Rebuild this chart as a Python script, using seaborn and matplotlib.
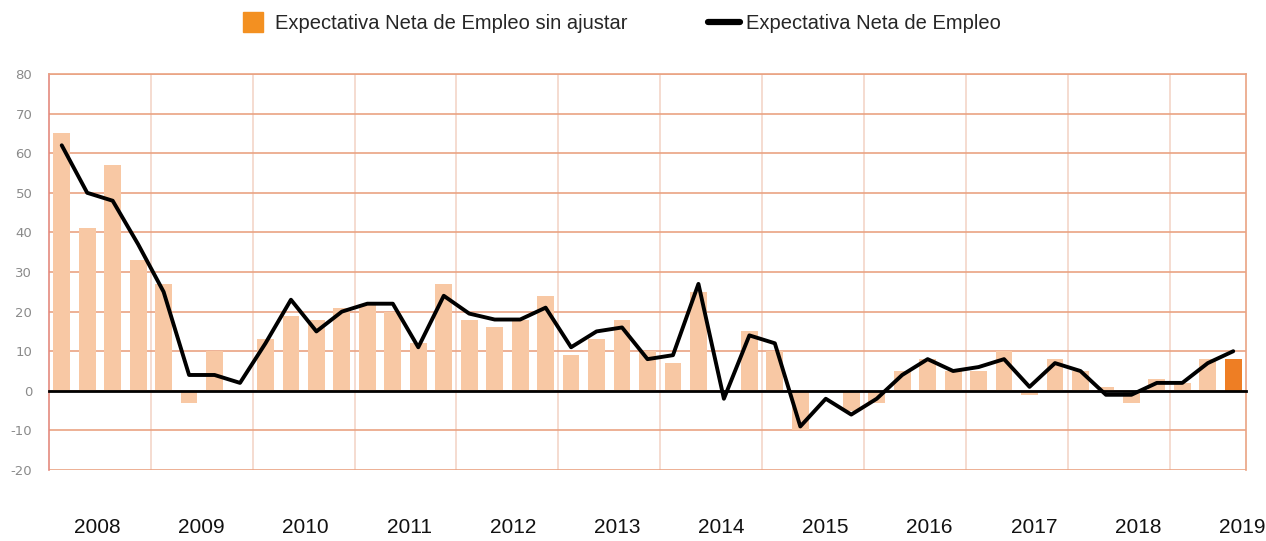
##
## Expectativa Neta de Empleo 2008 - 2019 (trimestral)
## Barras: sin ajustar, linea: ajustada
##

import numpy as np
import pandas as pd
import matplotlib.pyplot as plt
import seaborn as sns
from matplotlib.lines import Line2D


## Datos

arrYears = ['2008', '2009', '2010', '2011', '2012', '2013',
            '2014', '2015', '2016', '2017', '2018', '2019']

# trimestres desde 2008 T1 (47 trimestres)
arrQuarters = ['{}T{}'.format(y, q) for y in range(2008, 2020) for q in range(1, 5)][:47]

# Expectativa Neta de Empleo sin ajustar (barras)
arrSinAjustar = [65, 41, 57, 33, 27, -3, 10, 0, 13, 19,
                 18, 21, 22, 20, 12, 27, 18, 16, 18, 24,
                 9, 13, 18, 10, 7, 25, 0, 15, 10, -10,
                 0, -5, -3, 5, 8, 5, 5, 10, -1, 8,
                 5, 1, -3, 3, 2, 8, 8]

# Expectativa Neta de Empleo (linea)
arrNeta = [62, 50, 48, 37, 25, 4, 4, 2, 12, 23,
           15, 20, 22, 22, 11, 24, 19.5, 18, 18, 21,
           11, 15, 16, 8, 9, 27, -2, 14, 12, -9,
           -2, -6, -2, 4, 8, 5, 6, 8, 1, 7,
           5, -1, -1, 2, 2, 7, 10]

sLabelBars = 'Expectativa Neta de Empleo sin ajustar'
sLabelLine = 'Expectativa Neta de Empleo'

## Colores

cBarLight = '#F8C8A4'
cBarLast = '#EE7E24'
cLegendSwatch = '#F39021'
cGridH = '#EAA383'
cGridV = '#F4D6C8'


def BuildDataframe():

    df = pd.DataFrame({'trimestre': arrQuarters,
                       'sin_ajustar': arrSinAjustar,
                       'neta': arrNeta})
    df['pos'] = np.arange(len(df))
    # el ultimo trimestre se destaca en naranja fuerte
    df['tipo'] = 'previo'
    df.loc[df.index[-1], 'tipo'] = 'actual'
    return df


def DrawChart(df):

    sns.set_theme(style='white')
    plt.rcParams['font.family'] = ['Liberation Sans', 'DejaVu Sans']
    plt.rcParams['axes.unicode_minus'] = False

    fig = plt.figure(figsize=(12.66, 5.41), dpi=100)
    ax = fig.add_axes([0.0387, 0.1312, 0.9455, 0.732])

    # Barras sin ajustar
    sns.barplot(data=df, x='trimestre', y='sin_ajustar', hue='tipo',
                palette={'previo': cBarLight, 'actual': cBarLast},
                dodge=False, width=0.66, legend=False, saturation=1,
                linewidth=0, ax=ax, zorder=2)

    # Linea ajustada
    sns.lineplot(data=df, x='pos', y='neta', color='black', linewidth=2.8,
                 ax=ax, zorder=3)

    ax.set_xlim(-0.5, len(df) - 0.5)
    ax.set_ylim(-20, 80)
    ax.set_xlabel('')
    ax.set_ylabel('')

    # Eje Y
    ax.set_yticks(np.arange(-20, 81, 10))
    ax.tick_params(axis='y', labelsize=9.5, labelcolor='#8A8A8A', length=0, pad=12)
    for lbl in ax.get_yticklabels():
        lbl.set_family('DejaVu Sans')

    # Separadores de anio en X
    arrYearEdges = np.arange(3.5, len(df) - 1, 4)
    ax.set_xticks(arrYearEdges)
    ax.set_xticklabels([])
    ax.tick_params(axis='x', direction='out', length=4, width=1.5, color='black')

    # Rejilla
    ax.grid(axis='y', color=cGridH, linewidth=1.2, zorder=0)
    ax.grid(axis='x', color=cGridV, linewidth=1.2, zorder=0)
    ax.set_axisbelow(True)

    # Eje cero en negro
    ax.spines['bottom'].set_position(('data', 0))
    ax.spines['bottom'].set_color('black')
    ax.spines['bottom'].set_linewidth(2)
    ax.spines['bottom'].set_zorder(4)
    ax.spines['left'].set_color('#E48A7E')
    ax.spines['left'].set_linewidth(1.2)
    ax.spines['right'].set_color(cGridH)
    ax.spines['right'].set_linewidth(1.2)
    ax.spines['top'].set_color(cGridH)
    ax.spines['top'].set_linewidth(1.2)

    # Etiquetas de anio (fila aparte debajo del grafico)
    arrXText = np.linspace(97, 1242, len(arrYears)) / 1266
    for sYear, fX in zip(arrYears, arrXText):
        fig.text(fX, 0.025, sYear, ha='center', va='center', fontsize=15, color='#111111')

    # Leyenda
    arrHandles = [Line2D([], [], marker='s', markersize=15, linestyle='none',
                         color=cLegendSwatch),
                  Line2D([], [], color='black', linewidth=4.5, solid_capstyle='round')]
    fig.legend(arrHandles, [sLabelBars, sLabelLine], loc='center',
               bbox_to_anchor=(0.489, 0.956), ncol=2, frameon=False,
               fontsize=14.5, handlelength=1.6, handletextpad=0.3,
               columnspacing=4.0)

    fig.savefig('out.png', dpi=100)


dfData = BuildDataframe()
DrawChart(dfData)
